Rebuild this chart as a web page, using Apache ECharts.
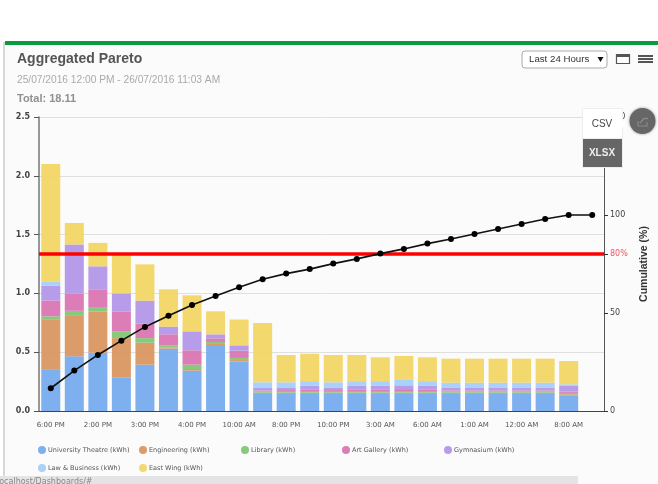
<!DOCTYPE html>
<html><head><meta charset="utf-8">
<style>html,body{margin:0;padding:0;background:#fff}#c{width:658px;height:484px}</style>
<script src="https://cdn.jsdelivr.net/npm/echarts@6/dist/echarts.min.js"></script>
</head><body><div id="c"></div>
<script>
const categories=["6:00 PM","","2:00 PM","","3:00 PM","","4:00 PM","","10:00 AM","","8:00 PM","","10:00 PM","","3:00 AM","","6:00 AM","","1:00 AM","","12:00 AM","","8:00 AM",""];
const universityTheatre=[.35,.465,.496,.283,.394,.53,.343,.561,.42,.145,.145,.145,.145,.145,.145,.145,.145,.145,.145,.145,.145,.145,.13];
const engineering=[.425,.35,.349,.337,.187,.011,.014,.009,.014,.011,.011,.011,.011,.011,.011,.011,.011,.011,.011,.011,.011,.011,.012];
const library=[.03,.037,.039,.055,.039,.017,.037,.017,.017,.011,.014,.014,.014,.014,.014,.014,.014,.011,.011,.011,.011,.011,.012];
const artGallery=[.135,.147,.151,.172,.125,.094,.122,.031,.062,.006,.008,.014,.008,.014,.014,.016,.014,.008,.008,.008,.008,.008,.01];
const gymnasium=[.125,.417,.195,.153,.193,.065,.161,.034,.045,.023,.018,.03,.018,.03,.03,.032,.03,.021,.021,.021,.021,.021,.049];
const lawBusiness=[.035,0,0,0,0,0,0,0,0,.048,.048,.04,.048,.04,.04,.046,.04,.045,.045,.045,.045,.045,.014];
const eastWing=[1.0,.183,.2,.33,.309,.318,.307,.196,.22,.504,.232,.233,.232,.222,.202,.204,.202,.204,.204,.204,.204,.204,.198];
const cumulative=[11.6,20.6,28.6,35.9,42.9,48.6,54.1,58.7,63.1,67.2,70.1,72.4,75.2,77.6,80.3,82.7,85.4,87.8,90.3,92.9,95.4,98,100,100];
const threshold=[80];
const seriesDefs=[
 ["University Theatre (kWh)",universityTheatre,"#74aaee"],
 ["Engineering (kWh)",engineering,"#d8955f"],
 ["Library (kWh)",library,"#7fc573"],
 ["Art Gallery (kWh)",artGallery,"#d973b3"],
 ["Gymnasium (kWh)",gymnasium,"#b195e8"],
 ["Law & Business (kWh)",lawBusiness,"#a3cdf9"],
 ["East Wing (kWh)",eastWing,"#f2d562"]
];
const legendPos=[[38,446],[139,446],[241,446],[342,446],[444,446],[38,464],[139,464]];
const FONT='"DejaVu Sans",sans-serif', UI='"Liberation Sans",Arial,sans-serif';
const chart=echarts.init(document.getElementById('c'),null,{renderer:'canvas'});
const bars=seriesDefs.map(d=>({name:d[0],type:'bar',stack:'a',data:d[1],barWidth:19,z:2,
  itemStyle:{color:d[2],opacity:.93,borderWidth:0},
  emphasis:{disabled:true}}));
chart.setOption({
 animation:false,
 backgroundColor:'#fff',
 grid:{left:39,right:54,top:117,bottom:73},
 legend:seriesDefs.map((d,i)=>({data:[{name:d[0],icon:'circle'}],left:legendPos[i][0],top:legendPos[i][1],itemWidth:8,itemHeight:8,itemGap:0,padding:0,selectedMode:false,
   textStyle:{fontFamily:FONT,fontSize:6.5,color:'#555',padding:[0,0,0,-3]}})),
 xAxis:{type:'category',data:categories,
   axisLine:{lineStyle:{color:'#444',width:1}},
   axisTick:{alignWithLabel:true,interval:1,length:4,lineStyle:{color:'#555'}},
   axisLabel:{interval:1,fontFamily:FONT,fontSize:7,color:'#555',margin:11},splitLine:{show:false}},
 yAxis:[
  {type:'value',min:0,max:2.5,interval:.5,
   axisLine:{show:true,lineStyle:{color:'#777',width:1.5}},
   axisTick:{show:true,length:5,lineStyle:{color:'#555'}},
   axisLabel:{fontFamily:FONT,fontSize:8,fontWeight:'bold',color:'#444',margin:9,formatter:v=>v.toFixed(1)},
   splitLine:{lineStyle:{color:'#dfdfdf',width:1}}},
  {type:'value',min:0,max:150,interval:50,position:'right',
   name:'Cumulative (%)',nameLocation:'middle',nameRotate:90,nameGap:35,
   nameTextStyle:{fontFamily:UI,fontSize:10.5,fontWeight:'bold',color:'#333'},
   axisLine:{show:true,lineStyle:{color:'#555',width:1}},
   axisTick:{show:true,length:4,customValues:[0,50,80,100,150],lineStyle:{color:'#333'}},
   axisLabel:{fontFamily:FONT,fontSize:8,color:'#444',margin:6},
   splitLine:{show:false}}
 ],
 series:[...bars,
  {name:'Threshold',type:'line',yAxisIndex:1,data:[],z:3,
   markLine:{silent:true,symbol:'none',z:3,animation:false,
     lineStyle:{color:'#ff0000',width:3.5,type:'solid',opacity:1},
     label:{position:'end',formatter:'{c}%',color:'#ee5566',fontFamily:FONT,fontSize:8,distance:6},
     data:[{yAxis:threshold[0]}]}},
  {name:'Cumulative',type:'line',yAxisIndex:1,data:cumulative,z:5,symbol:'circle',symbolSize:6,smooth:false,
   lineStyle:{color:'#111',width:1.6},itemStyle:{color:'#000'}}
 ],
 graphic:[
  {type:'rect',z:-10,silent:true,shape:{x:3,y:42,width:655,height:442},style:{fill:'#fbfbfb'}},
  {type:'rect',z:-9,silent:true,shape:{x:3,y:42,width:2,height:442},style:{fill:'#d8d8d8'}},
  {type:'rect',z:-8,silent:true,shape:{x:5,y:41,width:653,height:4},style:{fill:'#0b9b3f'}},
  {type:'text',z:10,style:{x:17,y:52,text:'Aggregated Pareto',fontFamily:UI,fontSize:14,fontWeight:'bold',fill:'#555'}},
  {type:'text',z:10,style:{x:17,y:75,text:'25/07/2016 12:00 PM - 26/07/2016 11:03 AM',fontFamily:UI,fontSize:10.2,fill:'#aaa'}},
  {type:'text',z:10,style:{x:17,y:93,text:'Total: 18.11',fontFamily:UI,fontSize:11,fontWeight:'bold',fill:'#909090'}},
  {type:'rect',z:10,shape:{x:522,y:51,width:85,height:17,r:3},style:{fill:'#fff',stroke:'#aaa',lineWidth:1}},
  {type:'text',z:11,style:{x:529,y:54,text:'Last 24 Hours',fontFamily:UI,fontSize:9.7,fill:'#333'}},
  {type:'polygon',z:11,shape:{points:[[597.5,57],[603.5,57],[600.5,62]]},style:{fill:'#111'}},
  {type:'rect',z:10,shape:{x:616.5,y:54.5,width:13,height:9},style:{fill:'#fff',stroke:'#555',lineWidth:1.2}},
  {type:'rect',z:11,shape:{x:616,y:54,width:14,height:3},style:{fill:'#555'}},
  {type:'rect',z:10,shape:{x:638,y:55,width:15,height:2},style:{fill:'#555'}},
  {type:'rect',z:10,shape:{x:638,y:58,width:15,height:2},style:{fill:'#555'}},
  {type:'rect',z:10,shape:{x:638,y:61,width:15,height:2},style:{fill:'#555'}},
  {type:'rect',z:20,shape:{x:582.5,y:108.5,width:40,height:30},style:{fill:'#fff',stroke:'#eee',lineWidth:1}},
  {type:'polygon',z:20,shape:{points:[[622,120],[626,124],[622,128]]},style:{fill:'#fff'}},
  {type:'rect',z:20,shape:{x:582.5,y:138.5,width:40,height:29},style:{fill:'#666',stroke:'#eee',lineWidth:1}},
  {type:'text',z:21,style:{x:602,y:124,text:'CSV',align:'center',verticalAlign:'middle',fontFamily:UI,fontSize:10,fill:'#444'}},
  {type:'text',z:21,style:{x:602,y:153,text:'XLSX',align:'center',verticalAlign:'middle',fontFamily:UI,fontSize:10,fontWeight:'bold',fill:'#eee'}},
  {type:'circle',z:20,shape:{cx:642.5,cy:121,r:13},style:{fill:'#666',shadowBlur:3,shadowColor:'rgba(0,0,0,.4)'}},
  {type:'polyline',z:21,shape:{points:[[638,121],[638,126],[647,126],[647,122]]},style:{fill:'none',stroke:'#888',lineWidth:1.2}},
  {type:'polyline',z:21,shape:{points:[[640,123],[644,118.5],[648,118.5]]},style:{fill:'none',stroke:'#888',lineWidth:1.5}},
  {type:'rect',z:30,shape:{x:0,y:476,width:578,height:8},style:{fill:'#e4e4e4'}},
  {type:'text',z:31,style:{x:-3,y:478,text:'localhost/Dashboards/#',fontFamily:FONT,fontSize:8,fill:'#888'}}
 ]
});
</script></body></html>
